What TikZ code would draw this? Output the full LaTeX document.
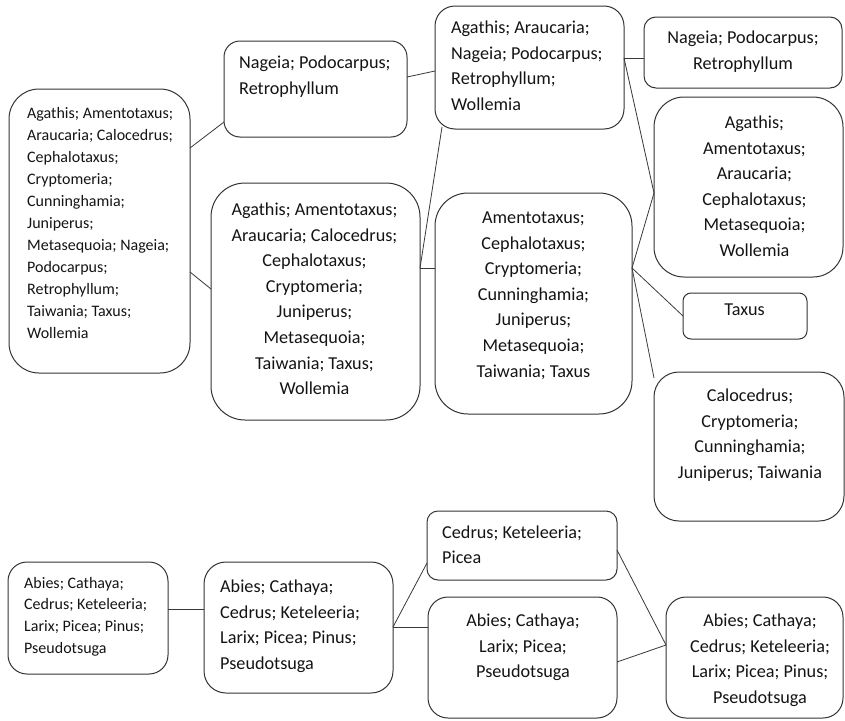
\documentclass[tikz,border=0pt]{standalone}
\usepackage{fontspec}
\setmainfont{Carlito}
\usetikzlibrary{calc}
\begin{document}
\begin{tikzpicture}[x=1pt,y=-1pt,
  box/.style={draw=black!80, line width=1pt, inner sep=0pt, outer sep=0pt},
  wire/.style={draw=black!78, line width=0.8pt},
  bigtxt/.style={font=\fontsize{18.2}{25.6}\selectfont, inner sep=0pt, text=black!92},
  smalltxt/.style={font=\fontsize{16}{21.96}\selectfont, inner sep=0pt, text=black!92},
  lefttxt/.style={align=left, anchor=base west},
  midtxt/.style={align=center, anchor=base}]
\useasboundingbox (0,0) rectangle (845,720);
% boxes
\node[box, rounded corners=30pt, minimum width=181pt, minimum height=284pt] (A) at (99.5,231) {};
\node[box, rounded corners=16pt, minimum width=183pt, minimum height=96pt] (B) at (315.5,89) {};
\node[box, rounded corners=34pt, minimum width=209pt, minimum height=237pt] (C) at (315.5,301.5) {};
\node[box, rounded corners=20pt, minimum width=189pt, minimum height=123pt] (D) at (529.5,67.5) {};
\node[box, rounded corners=12pt, minimum width=198pt, minimum height=71pt] (E) at (743,52.5) {};
\node[box, rounded corners=30pt, minimum width=189pt, minimum height=180pt] (F) at (748.5,187) {};
\node[box, rounded corners=33pt, minimum width=197pt, minimum height=221pt] (G) at (533.5,303.5) {};
\node[box, rounded corners=8pt, minimum width=124pt, minimum height=46pt] (H) at (745,316) {};
\node[box, rounded corners=25pt, minimum width=190pt, minimum height=149pt] (I) at (749,446.5) {};
\node[box, rounded corners=19pt, minimum width=160pt, minimum height=112pt] (J) at (88,618) {};
\node[box, rounded corners=22pt, minimum width=189pt, minimum height=131pt] (K) at (298.5,627.5) {};
\node[box, rounded corners=11pt, minimum width=190pt, minimum height=69pt] (L) at (522,545.5) {};
\node[box, rounded corners=20pt, minimum width=189pt, minimum height=121pt] (M) at (522.5,657.5) {};
\node[box, rounded corners=20pt, minimum width=177pt, minimum height=121pt] (N) at (754.5,657.5) {};
% texts (anchored at the baseline of the last line)
\node[smalltxt, lefttxt] (At) at (27,338.1) {Agathis; Amentotaxus;\\Araucaria; Calocedrus;\\Cephalotaxus;\\Cryptomeria;\\Cunninghamia;\\Juniperus;\\Metasequoia; Nageia;\\Podocarpus;\\Retrophyllum;\\Taiwania; Taxus;\\Wollemia};
\node[bigtxt, lefttxt] (Bt) at (239,94.1) {Nageia; Podocarpus;\\Retrophyllum};
\node[bigtxt, midtxt] (Ct) at (314.5,394.7) {Agathis; Amentotaxus;\\Araucaria; Calocedrus;\\Cephalotaxus;\\Cryptomeria;\\Juniperus;\\Metasequoia;\\Taiwania; Taxus;\\Wollemia};
\node[bigtxt, lefttxt] (Dt) at (451,110.3) {Agathis; Araucaria;\\Nageia; Podocarpus;\\Retrophyllum;\\Wollemia};
\node[bigtxt, midtxt] (Et) at (743,69.1) {Nageia; Podocarpus;\\Retrophyllum};
\node[bigtxt, midtxt] (Ft) at (754.5,256.5) {Agathis;\\Amentotaxus;\\Araucaria;\\Cephalotaxus;\\Metasequoia;\\Wollemia};
\node[bigtxt, midtxt] (Gt) at (533.5,377.1) {Amentotaxus;\\Cephalotaxus;\\Cryptomeria;\\Cunninghamia;\\Juniperus;\\Metasequoia;\\Taiwania; Taxus};
\node[bigtxt, midtxt] (Ht) at (744.5,315.5) {Taxus};
\node[bigtxt, midtxt] (It) at (750,478.3) {Calocedrus;\\Cryptomeria;\\Cunninghamia;\\Juniperus; Taiwania};
\node[smalltxt, lefttxt] (Jt) at (24,653.9) {Abies; Cathaya;\\Cedrus; Keteleeria;\\Larix; Picea; Pinus;\\Pseudotsuga};
\node[bigtxt, lefttxt] (Kt) at (220,669.3) {Abies; Cathaya;\\Cedrus; Keteleeria;\\Larix; Picea; Pinus;\\Pseudotsuga};
\node[bigtxt, lefttxt] (Lt) at (442,563.6) {Cedrus; Keteleeria;\\Picea};
\node[bigtxt, midtxt] (Mt) at (523,677.7) {Abies; Cathaya;\\Larix; Picea;\\Pseudotsuga};
\node[bigtxt, midtxt] (Nt) at (760,703.3) {Abies; Cathaya;\\Cedrus; Keteleeria;\\Larix; Picea; Pinus;\\Pseudotsuga};
% connectors
\draw[wire] ([yshift=83pt]A.east) -- ([yshift=-33pt]B.west);
\draw[wire] ([yshift=-41pt]A.east) -- ([yshift=12.5pt]C.west);
\draw[wire] ([yshift=12pt]B.east) -- ([yshift=-3.5pt]D.west);
\draw[wire] ([yshift=33.5pt]C.east) -- ([xshift=7pt,yshift=2pt]D.south west);
\draw[wire] ([yshift=33.5pt]C.east) -- ([yshift=35.5pt]G.west);
\draw[wire] ([yshift=9.5pt]D.east) -- ([yshift=-5.5pt]E.west);
\draw[wire] ([yshift=9.5pt]D.east) -- ([yshift=-6pt]F.west);
\draw[wire] ([yshift=35.5pt]G.east) -- ([yshift=-6pt]F.west);
\draw[wire] ([yshift=35.5pt]G.east) -- (H.west);
\draw[wire] ([yshift=35.5pt]G.east) -- ([yshift=68.5pt]I.west);
\draw[wire] ([yshift=9pt]J.east) -- ([yshift=18.5pt]K.west);
\draw[wire] ([yshift=0.5pt]K.east) -- ([yshift=-17.5pt]L.west);
\draw[wire] ([yshift=0.5pt]K.east) -- ([yshift=30.5pt]M.west);
\draw[wire] ([yshift=-4.5pt]L.east) -- ([yshift=12.5pt]N.west);
\draw[wire] ([yshift=-4.5pt]M.east) -- ([yshift=12.5pt]N.west);
\end{tikzpicture}
\end{document}
